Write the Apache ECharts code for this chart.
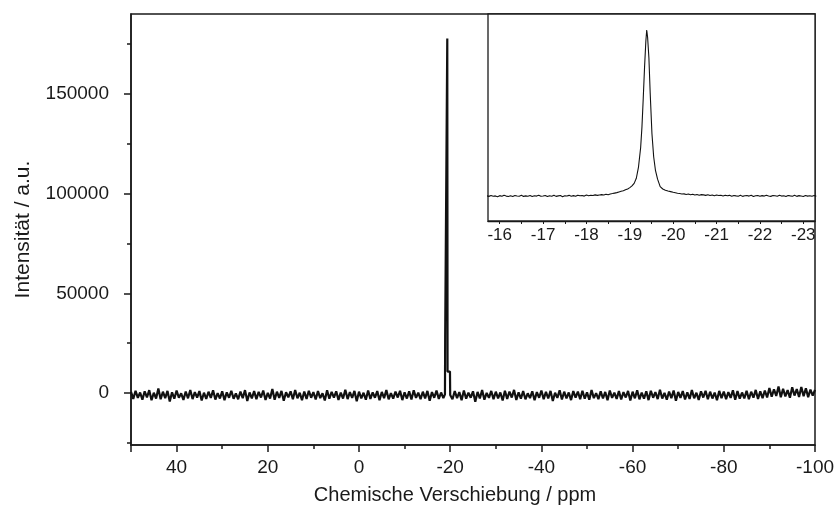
<!DOCTYPE html>
<html>
<head>
<meta charset="utf-8">
<script src="https://cdn.jsdelivr.net/npm/echarts@6/dist/echarts.min.js"></script>
<style>
  html, body { margin: 0; padding: 0; background: #fff; }
  #chart { width: 834px; height: 508px; }
</style>
</head>
<body>
<div id="chart"></div>
<script>
// main spectrum: baseline sampled every 0.5 ppm from 50 down to -100
const mainStart = 50;
const mainStep = -0.5;
const mainBaseline = [
  600, -2900, 1200, -2400, 300, -3300, 900, -2100, 1500, -3600, 200, -2700, 2300, -3100, 700, -2500, 1100, -4200, 400, -2800,
  1300, -2300, -100, -3400, 800, -2600, 1600, -3000, 500, -2200, 1000, -3700, 200, -2900, 700, -2400, 1400, -3200, 0, -2700,
  900, -3500, 400, -2300, 1200, -2800, -200, -3100, 800, -2500, 1500, -3900, 300, -2600, 1000, -3000, 600, -2200, 1300, -3400,
  100, -2700, 2100, -3300, 700, -2400, 1100, -3800, 400, -2100, 900, -3100, 1600, -2600, 200, -3500, 800, -2900, 1200, -2300,
  500, -3200, 1000, -2500, -100, -3700, 1400, -2800, 600, -2200, 900, -3400, 300, -2700, 1700, -3000, 500, -2400, 1100, -4100,
  700, -2600, 200, -3300, 1300, -2900, 400, -2300, 1000, -3600, 600, -2500, 1500, -3100, 0, -2800, 800, -2200, 1200, -3500,
  400, -2700, 900, -3200, 1400, -2400, 200, -3000, 700, -2600, 1100, -3800, 500, -2300, 1300, -2900, 300, -2500, 800, -1200,
  -900, -3100, 1000, -2500, 500, -3600, 1300, -2800, 200, -2300, 900, -4300, 600, -2700, 1500, -3300, 100, -2400, 1100, -3000,
  700, -2600, 300, -3700, 1200, -2900, 800, -2200, 1600, -3400, 400, -2800, 1000, -3100, -100, -2500, 900, -3600, 500, -2300,
  1300, -3000, 600, -2700, 1100, -3900, 200, -2400, 1400, -3200, 700, -2600, 300, -3500, 1000, -2300, 800, -3100, 1200, -2800,
  400, -3300, 1500, -2500, 0, -3000, 900, -2700, 600, -3600, 1300, -2400, 200, -2900, 1000, -3200, 500, -2200, 1100, -3700,
  700, -2600, 1400, -3100, 300, -2800, 900, -3500, 1200, -2300, 500, -3000, 1700, -2700, 100, -3300, 800, -2500, 1300, -3800,
  600, -2400, 1000, -3200, 400, -2900, 1500, -2600, 200, -3400, 900, -2200, 1200, -3100, 700, -2700, 300, -3600, 1100, -2500,
  800, -3000, 500, -2400, 1400, -3300, 1000, -2800, 300, -2600, 1200, -3100, 700, -2300, 1600, -2900, 900, -2500, 1300, -2200,
  2600, -1800, 1900, -1400, 3300, -2100, 2200, -1600, 1500, -2300, 2900, -1200, 2000, -1900, 3100, -1500, 2400, -2000, 1800, -1300,
  1600
];
// the resonance as seen at full scale
const mainPeak = [
  [-18.85, -600], [-18.9, 28400], [-19.36, 177700], [-19.42, 10800], [-19.95, 10800], [-20.0, -900]
];

// inset: zoom on the resonance, baseline every 0.05 ppm
const insetStep = -0.05;
const insetLeftStart = -15.7;
const insetLeft = [
  300, -400, 600, -200, 100, -700, 400, -300, 800, -100, -500, 200, -600, 500, 0, -300, 700, -400, 100, -200,
  500, -600, 200, -100, 800, -300, 0, 600, -500, 300, -200, 900, -400, 100, 500, -700, 300, 0, 700, -200,
  400, -300, 900, 200, 600, -100, 1000, 300, 800, 500, 1200, 700, 1100, 1500, 1000, 1800, 1400, 2200, 2600, 3100,
  3600, 4300
];
const insetPeak = [
  [-18.80, 5000], [-18.85, 5600], [-18.90, 6600], [-18.95, 7600], [-19.00, 9000], [-19.05, 10800],
  [-19.10, 13500], [-19.15, 19000], [-19.20, 31000], [-19.25, 52000], [-19.28, 74000], [-19.31, 105000],
  [-19.34, 138000], [-19.37, 166000], [-19.39, 177700], [-19.41, 170000], [-19.44, 148000], [-19.47, 110000],
  [-19.51, 67000], [-19.55, 42000], [-19.59, 27800], [-19.64, 18000], [-19.70, 10000], [-19.76, 7500],
  [-19.82, 6200], [-19.88, 5400], [-19.94, 4700], [-20.00, 4000], [-20.05, 3500], [-20.10, 3000],
  [-20.15, 2600], [-20.20, 2200]
];
const insetRightStart = -20.25;
const insetRight = [
  2300, 1600, 2100, 1300, 1900, 1100, 1700, 900, 1500, 1200, 700, 1400, 600, 1100, 300, 1000, 500, 800, 100, 900,
  200, 700, -300, 600, 100, -200, 800, -400, 300, 500, -100, 700, -500, 200, 600, -300, 400, -100, 800, 0,
  -400, 500, 200, -300, 700, -100, 300, -600, 600, 100, -200, 800, -400, 400, 0, -500, 600, -100, 300, -300,
  500, -200
];

const yTicks = [0, 50000, 100000, 150000];
const yMinorTicks = [-25000, 25000, 75000, 125000, 175000];
const insetTicks = [-16, -17, -18, -19, -20, -21, -22, -23];
const insetMinorTicks = [-16, -16.5, -17, -17.5, -18, -18.5, -19, -19.5, -20, -20.5, -21, -21.5, -22, -22.5, -23];

const round = (v) => Math.round(v * 1000) / 1000;

const mainData = mainBaseline
  .map((v, i) => [round(mainStart + i * mainStep), v])
  .filter((p) => p[0] > -18.8 || p[0] < -20.05)
  .concat(mainPeak)
  .sort((a, b) => b[0] - a[0]);

const insetData = insetLeft.map((v, i) => [round(insetLeftStart + i * insetStep), v])
  .concat(insetPeak)
  .concat(insetRight.map((v, i) => [round(insetRightStart + i * insetStep), v]));

const ink = '#1a1a1a';
const font = 'Liberation Sans, Arial, sans-serif';

const chart = echarts.init(document.getElementById('chart'), null, { renderer: 'canvas' });
chart.setOption({
  animation: false,
  backgroundColor: '#fff',
  grid: [
    { left: 131, top: 14, right: 19, bottom: 63, show: true, borderColor: ink, borderWidth: 1.5,
      containLabel: false, outerBoundsMode: 'none' },
    { left: 488, top: 14, width: 327, height: 207, show: true, borderColor: ink, borderWidth: 1.3,
      backgroundColor: '#fff', containLabel: false, outerBoundsMode: 'none', z: 5 }
  ],
  xAxis: [
    {
      gridIndex: 0, type: 'value', inverse: true, min: -100, max: 50, interval: 20,
      name: 'Chemische Verschiebung / ppm', nameLocation: 'middle', nameGap: 40,
      nameTextStyle: { fontFamily: font, fontSize: 20, color: ink, padding: [0, 36, 0, 0] },
      axisLine: { show: true, onZero: false, lineStyle: { color: ink, width: 1.5 } },
      axisTick: { show: true, length: 7, lineStyle: { color: ink, width: 1.5 } },
      minorTick: { show: true, splitNumber: 2, length: 4, lineStyle: { color: ink, width: 1.5 } },
      axisLabel: { fontFamily: font, fontSize: 19, color: ink, margin: 13, showMaxLabel: false,
        formatter: (v) => (v % 20 === 0 ? String(v) : '') },
      splitLine: { show: false }
    },
    {
      gridIndex: 1, type: 'value', inverse: true, min: -23.27, max: -15.73,
      axisLine: { show: true, onZero: false, lineStyle: { color: ink, width: 1.3 } },
      axisTick: { show: true, length: 3, customValues: insetMinorTicks, lineStyle: { color: ink, width: 1 } },
      axisLabel: { fontFamily: font, fontSize: 17, color: ink, margin: 6, customValues: insetTicks,
        formatter: (v) => String(v) },
      splitLine: { show: false }
    }
  ],
  yAxis: [
    {
      gridIndex: 0, type: 'value', position: 'left', min: -26000, max: 190000,
      name: 'Intensität / a.u.', nameLocation: 'middle', nameGap: 97,
      nameTextStyle: { fontFamily: font, fontSize: 21, color: ink },
      axisLine: { show: true, onZero: false, lineStyle: { color: ink, width: 1.5 } },
      axisTick: { show: true, length: 7, customValues: yTicks, lineStyle: { color: ink, width: 1.5 } },
      axisLabel: { fontFamily: font, fontSize: 19, color: ink, margin: 22, customValues: yTicks,
        formatter: (v) => String(v) },
      splitLine: { show: false }
    },
    {
      gridIndex: 0, type: 'value', position: 'left', min: -26000, max: 190000,
      axisLine: { show: false, onZero: false },
      axisTick: { show: true, length: 4, customValues: yMinorTicks, lineStyle: { color: ink, width: 1.5 } },
      axisLabel: { show: false },
      splitLine: { show: false }
    },
    {
      gridIndex: 1, type: 'value', min: -26760, max: 194860,
      show: false, splitLine: { show: false }
    }
  ],
  series: [
    {
      type: 'line', xAxisIndex: 0, yAxisIndex: 0, data: mainData,
      showSymbol: false, symbol: 'none',
      lineStyle: { color: '#111', width: 2.2 }, z: 2
    },
    {
      type: 'line', xAxisIndex: 1, yAxisIndex: 2, data: insetData,
      showSymbol: false, symbol: 'none',
      lineStyle: { color: '#111', width: 1.1 }, z: 6
    }
  ]
});
</script>
</body>
</html>
